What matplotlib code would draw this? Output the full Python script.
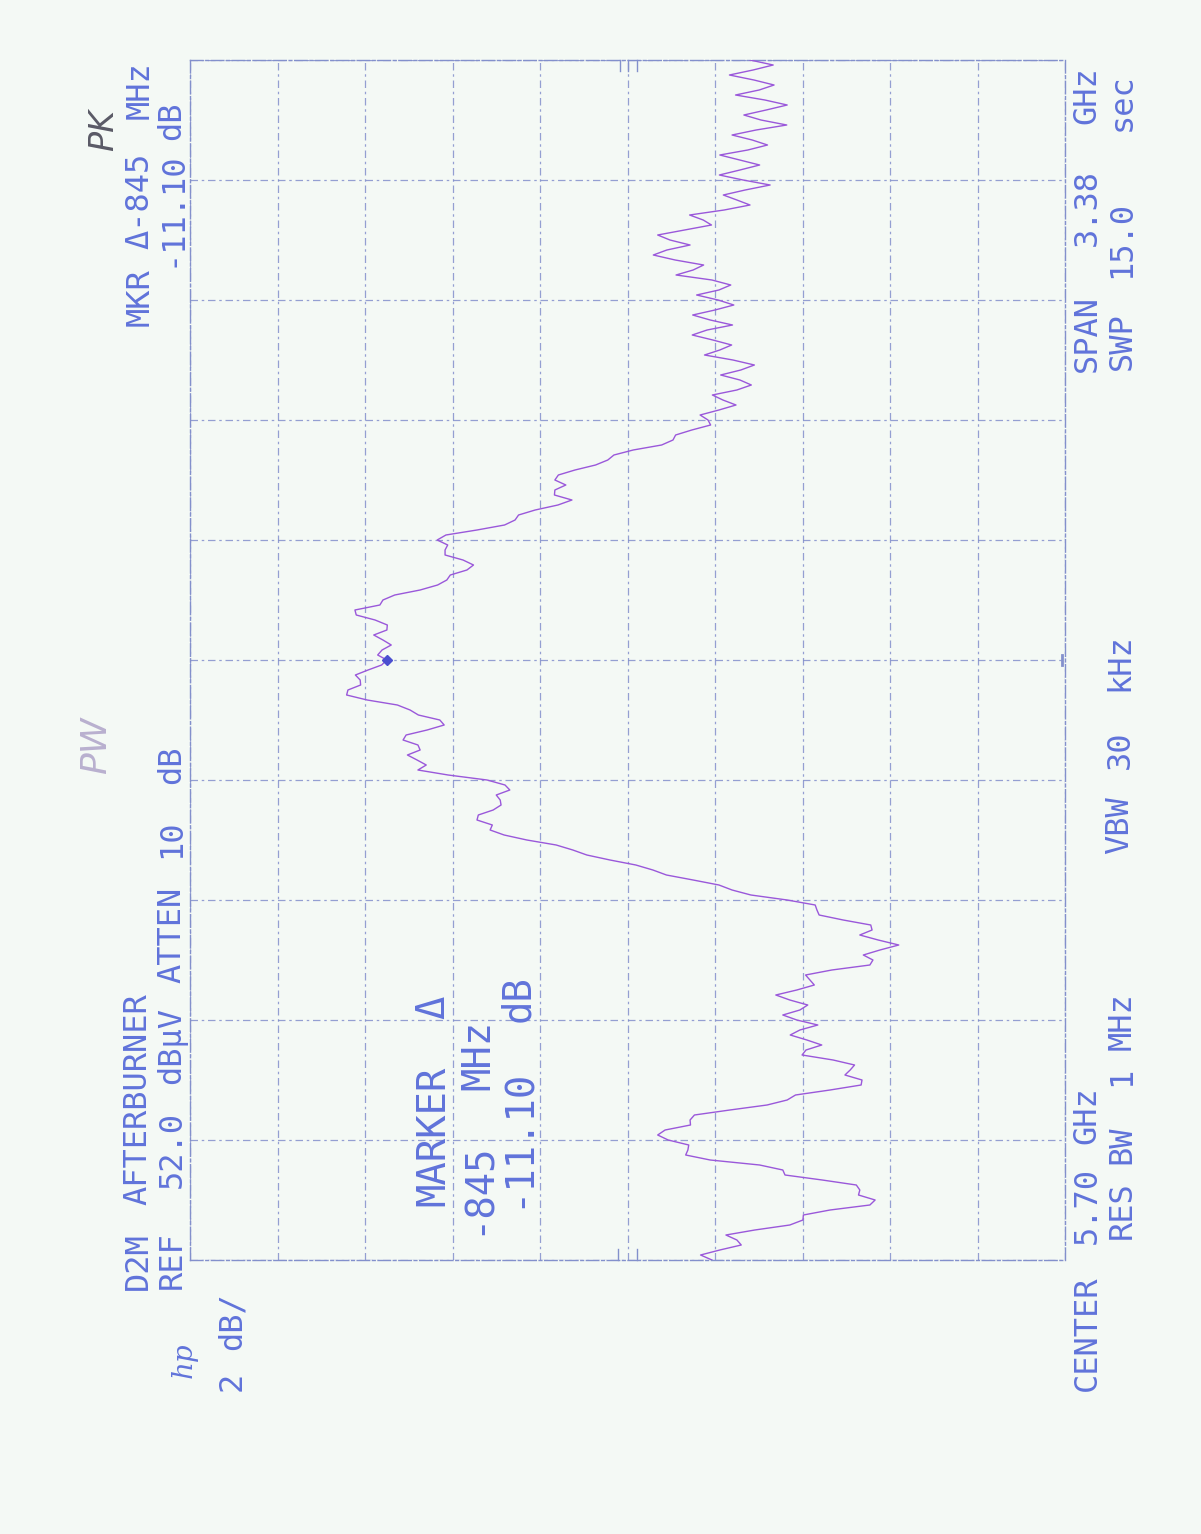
import numpy as np
import matplotlib
matplotlib.use("Agg")
import matplotlib.pyplot as plt

# analyzer settings shown on the plot
CENTER_GHZ = 5.70
SPAN_GHZ = 3.38
REF_DBUV = 52.0
DB_PER_DIV = 2.0
N_DIV = 10

# swept trace, dBuV, equally spaced from start to stop frequency
trace_dbuv = [
    40.07, 40.33, 39.89, 39.40, 39.50, 39.75, 39.09, 38.29, 37.99, 37.98,
    37.37, 36.46, 36.34, 36.72, 36.69, 36.77, 37.55, 38.40, 38.45, 38.98,
    40.11, 40.67, 40.62, 40.60, 41.07, 41.31, 41.14, 40.56, 40.57, 40.47,
    39.66, 38.81, 38.35, 38.16, 37.37, 36.66, 36.64, 37.03, 36.91, 36.81,
    37.30, 38.01, 37.92, 37.56, 37.90, 38.28, 38.06, 37.65, 38.13, 38.45,
    38.06, 37.88, 38.29, 38.61, 38.13, 37.73, 37.83, 37.93, 37.33, 36.46,
    36.39, 36.61, 36.23, 35.80, 36.27, 36.69, 36.41, 36.44, 37.07, 37.62,
    37.67, 37.71, 38.35, 39.18, 39.61, 39.91, 40.50, 41.11, 41.42, 41.81,
    42.40, 42.93, 43.25, 43.63, 44.30, 44.82, 45.14, 45.09, 45.44, 45.41,
    45.07, 44.89, 44.91, 45.00, 44.69, 44.80, 45.21, 46.10, 46.79, 46.60,
    46.81, 47.03, 46.74, 46.79, 47.13, 47.06, 46.58, 46.19, 46.29, 46.78,
    46.97, 47.26, 47.95, 48.42, 48.39, 48.10, 48.11, 48.22, 47.93, 47.62,
    47.50, 47.71, 47.61, 47.40, 47.59, 47.80, 47.50, 47.49, 47.77, 48.20,
    48.23, 47.66, 47.59, 47.32, 46.74, 46.34, 46.13, 46.05, 45.67, 45.52,
    45.76, 46.17, 46.17, 46.11, 46.35, 46.15, 45.44, 44.81, 44.57, 44.49,
    44.11, 43.59, 43.27, 43.67, 43.66, 43.41, 43.66, 43.58, 43.20, 42.73,
    42.45, 42.31, 41.87, 41.22, 40.96, 40.90, 40.53, 40.10, 40.16, 40.34,
    39.91, 39.52, 39.82, 40.06, 39.50, 39.17, 39.43, 39.87, 39.41, 39.10,
    39.59, 40.24, 39.89, 39.62, 40.05, 40.52, 40.18, 39.60, 40.11, 40.51,
    40.00, 39.57, 39.93, 40.42, 39.91, 39.64, 40.07, 40.89, 40.50, 40.26,
    40.91, 41.41, 41.10, 40.57, 41.03, 41.31, 40.69, 40.08, 40.27, 40.58,
    39.79, 39.20, 39.50, 39.81, 39.31, 38.74, 39.36, 39.90, 39.43, 38.98,
    39.43, 39.89, 39.25, 38.80, 39.15, 39.61, 39.06, 38.36, 38.95, 39.34,
    38.83, 38.35, 38.86, 39.53, 38.99, 38.65, 39.11, 39.67, 39.13, 38.67,
    39.20,
]

PAPER = "#f4f9f5"
INK = "#6073da"
GRID = "#8390cc"
TRACE = "#9a58da"
MONO = "DejaVu Sans Mono"

W, H = 1201, 1534
f_start = CENTER_GHZ - SPAN_GHZ / 2
f_stop = CENTER_GHZ + SPAN_GHZ / 2
freqs = np.linspace(f_start, f_stop, len(trace_dbuv))
levels = np.array(trace_dbuv)

fig = plt.figure(figsize=(W / 100, H / 100), dpi=100, facecolor=PAPER)

# plot is turned on its side: level runs left (ref) to right, frequency runs up
ax = fig.add_axes([190 / W, 1 - 1260 / H, 875 / W, 1200 / H])
ax.set_facecolor(PAPER)
ax.set_xlim(REF_DBUV, REF_DBUV - N_DIV * DB_PER_DIV)
ax.set_ylim(f_start, f_stop)
ax.set_xticks(np.linspace(REF_DBUV - N_DIV * DB_PER_DIV, REF_DBUV, N_DIV + 1))
ax.set_yticks(np.linspace(f_start, f_stop, N_DIV + 1))
ax.tick_params(length=0, labelbottom=False, labelleft=False)
ax.grid(True, color=GRID, lw=0.9, ls=(0, (6, 3, 2, 3)), alpha=0.85)
for sp in ax.spines.values():
    sp.set_color(GRID)
    sp.set_linewidth(1.0)
    sp.set_linestyle((0, (9, 2, 2, 2)))

ax.plot(levels, freqs, color=TRACE, lw=1.0, zorder=3)

# active marker at center frequency
mk_level = np.interp(CENTER_GHZ, freqs, levels)
ax.plot([mk_level], [CENTER_GHZ], marker="D", ms=5, color="#4b4fd0", zorder=4)

# little reference ticks along the border
tk = dict(transform=ax.transAxes, color=GRID, lw=1.0, clip_on=False)
for xa in (0.489, 0.511):
    ax.plot([xa, xa], [0.0, 0.009], **tk)
for xa in (0.491, 0.50, 0.511):
    ax.plot([xa, xa], [0.991, 1.0], **tk)
ax.plot([0.997, 0.997], [0.496, 0.504], transform=ax.transAxes, color=GRID,
        lw=2.0, clip_on=False)


def label(x, y, s, size=23, **kw):
    # x, y: pixel position of the middle of the (vertical) word
    fig.text(x / W, 1 - y / H, s, rotation=90, rotation_mode="anchor",
             ha="center", va="center", color=kw.pop("color", INK),
             fontsize=size, family=kw.pop("family", MONO), **kw)


def line(x, words, size=23):
    for y, s in words:
        label(x, y, s, size=size)


# header, left side
line(138, [(1261, "D2M"), (1099, "AFTERBURNER")])
line(172, [(1260, "REF"), (1150, "52.0"), (1046, "dBµV"),
           (935, "ATTEN"), (839, "10"), (765, "dB")])
line(232, [(1381, "2"), (1321, "dB/")])
label(184, 1360, "hp", size=20, style="italic", family="DejaVu Serif")

# header, marker readout
line(140, [(297, "MKR"), (201, "Δ-845"), (90, "MHz")])
line(172, [(209, "-11.10"), (121, "dB")])

# marker block inside the graticule
line(433, [(1136, "MARKER"), (1007, "Δ")], size=28)
line(478, [(1188, "-845"), (1055, "MHz")], size=28)
line(518, [(1138, "-11.10"), (999, "dB")], size=28)

# footer
line(1087, [(1333, "CENTER"), (1206, "5.70"), (1115, "GHz")])
line(1122, [(1210, "RES"), (1145, "BW"), (1076, "1"), (1021, "MHz")])
line(1120, [(825, "VBW"), (750, "30"), (662, "kHz")])
line(1087, [(333, "SPAN"), (208, "3.38"), (95, "GHz")])
line(1122, [(341, "SWP"), (240, "15.0"), (102, "sec")])

# pen notes on the sheet
label(96, 745, "PW", size=26, color="#b9b0cf", family="DejaVu Sans",
      style="italic", fontweight="light")
label(104, 130, "PK", size=24, color="#5a5a66", family="DejaVu Sans",
      style="italic")

fig.savefig("out.png", dpi=100, facecolor=PAPER)
